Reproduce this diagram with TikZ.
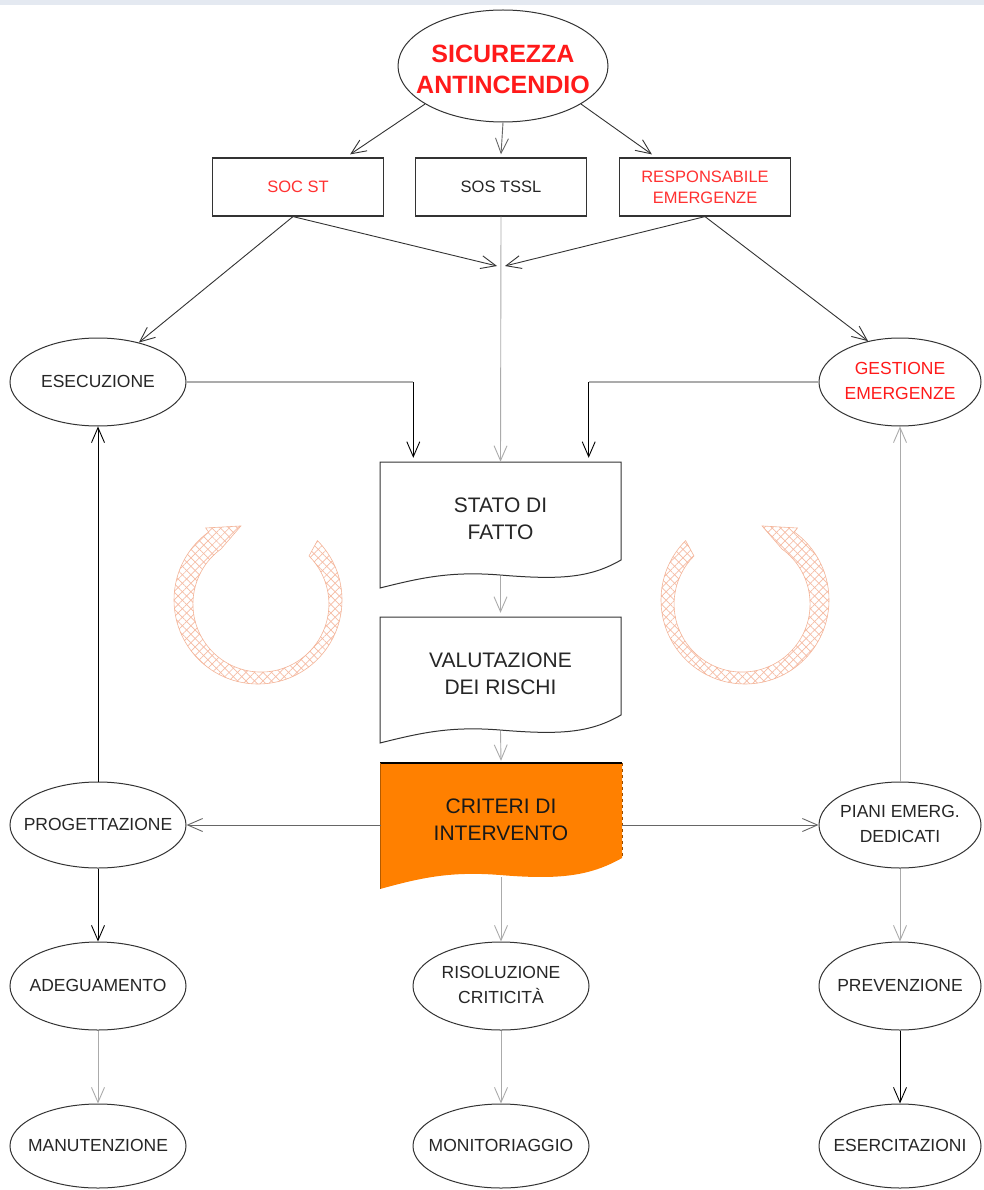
\documentclass[tikz,border=0pt]{standalone}
\usepackage{fontspec}
\setmainfont{Liberation Sans}
\usetikzlibrary{arrows.meta,shapes.geometric,patterns.meta,calc}
\definecolor{dk}{HTML}{333333}
\definecolor{md}{HTML}{666666}
\definecolor{lt}{HTML}{ABABAB}
\definecolor{rd}{HTML}{FF1A1A}
\definecolor{org}{HTML}{FF8000}
\definecolor{salmon}{HTML}{F4B498}
\definecolor{salmonl}{HTML}{F6BCA4}
\definecolor{band}{HTML}{E4E9F1}
\newcommand\zw[1]{\makebox[0pt]{\begin{tabular}{@{}c@{}}#1\end{tabular}}}
\begin{document}
\begin{tikzpicture}[x=1pt,y=-1pt,
  ell/.style={ellipse,draw=dk,line width=1pt,minimum width=176pt,minimum height=88pt,inner sep=0pt,font=\fontsize{17.5}{25}\selectfont,text=black!85},
  ellr/.style={ell,minimum width=162pt},
  box/.style={rectangle,draw=dk,line width=1.2pt,minimum width=171pt,minimum height=58pt,inner sep=0pt,align=center,font=\fontsize{16.5}{21}\selectfont,text=black!85},
  docnode/.style={minimum width=240pt,minimum height=114pt,inner sep=0pt,align=center,font=\fontsize{21}{27}\selectfont,text=black!85},
  con/.style={line width=0.9pt,-{Straight Barb[length=15pt,width=13pt]}},
  cycL/.style={insert path={(45:84pt) arc[start angle=45,end angle=-234,radius=84pt] -- (-234:89pt) -- (-257:76pt) -- (-234:63pt) arc[start angle=-234,end angle=45,radius=68pt] -- cycle}},
  cycR/.style={insert path={(135:84pt) arc[start angle=135,end angle=414,radius=84pt] -- (414:89pt) -- (437:76pt) -- (414:63pt) arc[start angle=414,end angle=135,radius=68pt] -- cycle}},
  hatchA/.style={pattern={Lines[angle=45,distance=6pt,line width=0.7pt]},pattern color=salmonl},
  hatchB/.style={pattern={Lines[angle=-45,distance=6pt,line width=0.7pt]},pattern color=salmonl},
]
\path[use as bounding box,fill=white] (0,0) rectangle (984,1190);
\fill[band] (0,0) rectangle (984,5);

% top
\node[ellipse,draw=dk,line width=1pt,minimum width=210pt,minimum height=112pt,inner sep=0pt,
  font=\fontsize{25}{31}\selectfont\bfseries,text=rd] (top) at (503,66) {\raisebox{-12pt}[0pt][0pt]{\zw{SICUREZZA\\ANTINCENDIO}}};

% boxes
\node[box,text=rd!90] (soc) at (298,187) {SOC ST};
\node[box] (sos) at (501,187) {SOS TSSL};
\node[box,text=rd!90] (resp) at (705,187) {RESPONSABILE\\EMERGENZE};

% documents
\draw[dk,line width=1pt,fill=white] (380,462) -- (621,462) -- (621,560) .. controls (590,578) and (560,580) .. (500,575) .. controls (450,571) and (420,578) .. (380,588) -- cycle;
\node[docnode] (stato) at (500.5,519) {STATO DI\\FATTO};
\draw[dk,line width=1pt,fill=white] (380,617) -- (621,617) -- (621,715) .. controls (590,733) and (560,735) .. (500,730) .. controls (450,726) and (420,733) .. (380,743) -- cycle;
\node[docnode] (val) at (500.5,674) {VALUTAZIONE\\DEI RISCHI};
\fill[org] (380,763) -- (622,763) -- (622,858) .. controls (590,876) and (560,880) .. (500,875) .. controls (450,871) and (420,878) .. (380,889) -- cycle;
\draw[black,line width=1.2pt] (380,763) -- (622,763);
\draw[org!70!black,line width=0.5pt] (380,763) -- (380,889);
\draw[org!60!black,line width=0.6pt,dash pattern=on 3pt off 3pt] (622,763) -- (622,858);
\node[docnode,text=black!90] (crit) at (501,820) {CRITERI DI\\INTERVENTO};

% ellipses
\node[ell] (esec) at (98,382) {\zw{ESECUZIONE}};
\node[ellr,text=rd] (gest) at (900,382) {\zw{GESTIONE\\EMERGENZE}};
\node[ell,minimum height=86pt] (prog) at (98,825) {\zw{PROGETTAZIONE}};
\node[ellr,minimum height=86pt] (piani) at (900,825) {\zw{PIANI EMERG.\\DEDICATI}};
\node[ell] (adeg) at (98,986) {\zw{ADEGUAMENTO}};
\node[ell] (ris) at (501,986) {\zw{RISOLUZIONE\\CRITICITÀ}};
\node[ellr] (prev) at (900,986) {\zw{PREVENZIONE}};
\node[ell,minimum height=84pt] (man) at (98,1146) {\zw{MANUTENZIONE}};
\node[ell,minimum height=84pt] (mon) at (501,1146) {\zw{MONITORIAGGIO}};
\node[ellr,minimum height=84pt] (eser) at (900,1146) {\zw{ESERCITAZIONI}};

% connectors from top
\draw[con,dk] (top.206) -- ($(soc.north east)+(-34,-3)$);
\draw[con,md] (top.south) -- ($(sos.north)+(0,-3)$);
\draw[con,dk] (top.-26) -- ($(resp.north west)+(33,-3)$);

\coordinate (mg) at (501,266);
\coordinate (sb) at ($(soc.south)+(-5,0)$);
\draw[con,dk] (sb) -- ($(mg)+(-4,0)$);
\draw[con,dk] (resp.south) -- ($(mg)+(4,0)$);
\draw[con,dk] (sb) -- (esec.44);
\draw[con,dk] (resp.south) -- (gest.128);
\draw[con,lt] (sos.south) -- (stato.north);

\coordinate (k1) at ($(stato.north west)+(33,-4)$);
\coordinate (k2) at ($(stato.north east)+(-32,-4)$);
\draw[lt,line width=1.2pt] (esec.east) -- (esec.east -| k1);
\draw[con,black] (esec.east -| k1) -- (k1);
\draw[lt,line width=1.2pt] (gest.west) -- (gest.west -| k2);
\draw[con,black] (gest.west -| k2) -- (k2);

\draw[con,lt] (stato.south) -- ($(val.north)+(0,-4)$);
\draw[con,lt] (val.south) -- ($(crit.north)+(0,-2)$);
\draw[con,md] (crit.west |- prog) -- (prog.east);
\draw[con,md] (622,825) -- (piani.west);

\draw[con,black] (prog) -- (esec);
\draw[con,lt] (piani) -- (gest);
\draw[con,black] (prog) -- (adeg);
\draw[con,lt] (crit.south) -- (ris.north);
\draw[con,lt] (piani) -- (prev);
\draw[con,lt] (adeg) -- (man);
\draw[con,lt] (ris) -- (mon);
\draw[con,black] (prev) -- (eser);

% circular arrows
\begin{scope}[shift={(258,600)}]
  \path[hatchA,cycL];
  \path[hatchB,cycL];
  \draw[salmon,line width=0.6pt,cycL];
\end{scope}
\begin{scope}[shift={(745,600)}]
  \path[hatchA,cycR];
  \path[hatchB,cycR];
  \draw[salmon,line width=0.6pt,cycR];
\end{scope}
\end{tikzpicture}
\end{document}
